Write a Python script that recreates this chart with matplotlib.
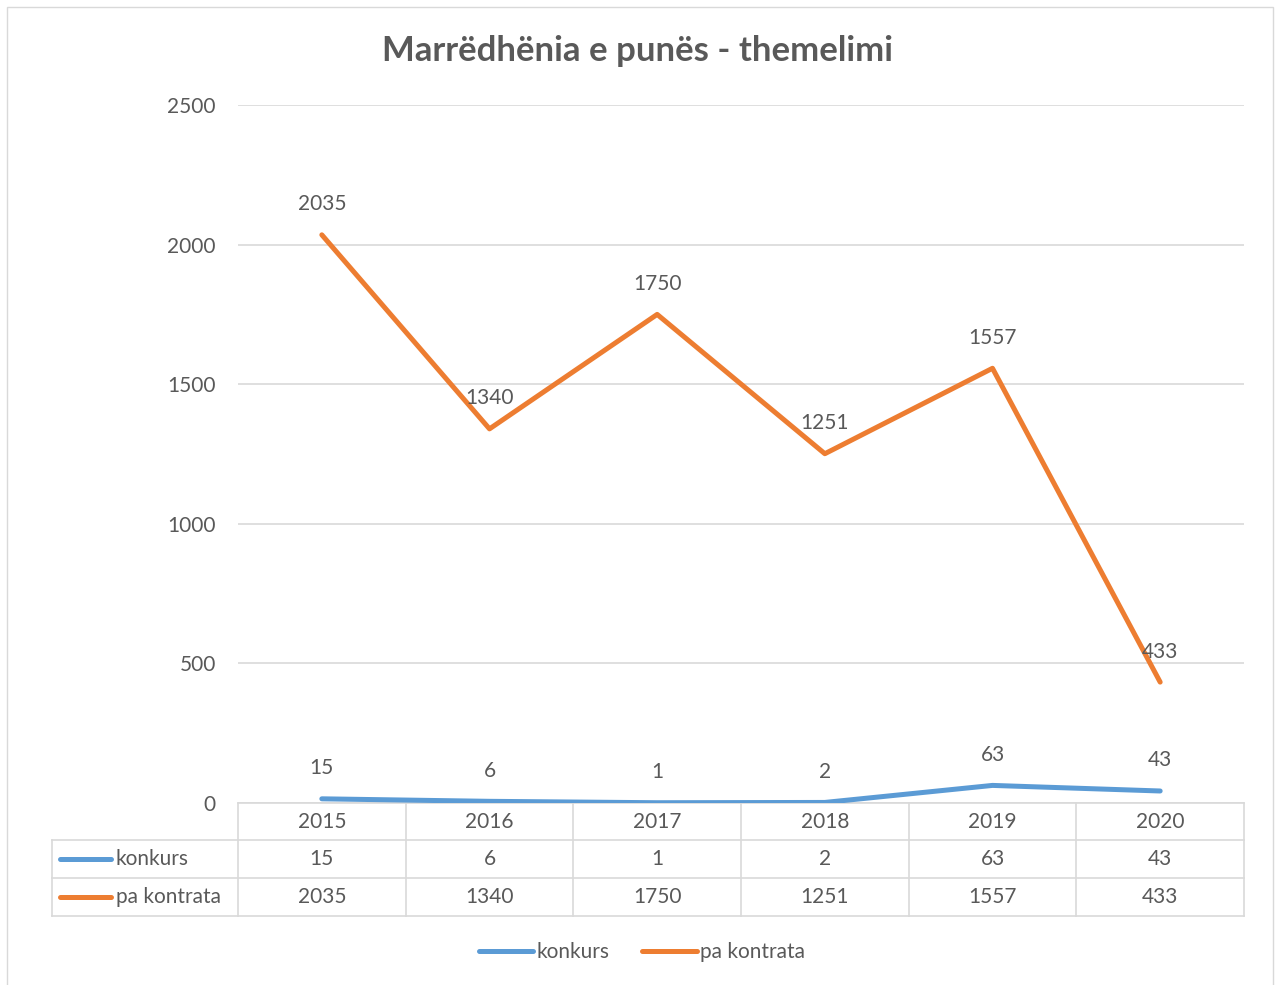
import matplotlib.pyplot as plt
from matplotlib.transforms import blended_transform_factory
from matplotlib.lines import Line2D
from matplotlib.patches import Rectangle

years = ["2015", "2016", "2017", "2018", "2019", "2020"]
konkurs = [15, 6, 1, 2, 63, 43]
pa_kontrata = [2035, 1340, 1750, 1251, 1557, 433]

series = [
    ("konkurs", konkurs, "#5b9bd5"),
    ("pa kontrata", pa_kontrata, "#ed7d31"),
]

TEXT = "#595959"
GRID = "#d9d9d9"
W, H = 1276, 985
FS = 15


def main():
    plt.rcParams["font.family"] = ["Lato", "DejaVu Sans"]
    fig = plt.figure(figsize=(W / 100, H / 100), dpi=100)
    ax = fig.add_axes([238 / W, 1 - 803 / H, (1244 - 238) / W, (803 - 105) / H])

    x = list(range(len(years)))
    for label, vals, color in series:
        ax.plot(x, vals, color=color, lw=3.6, solid_capstyle="round", zorder=3)
        for xi, v in zip(x, vals):
            ax.annotate(str(v), (xi, v), xytext=(0, 22), textcoords="offset points",
                        ha="center", va="center", fontsize=FS, color=TEXT, zorder=4)

    ax.set_xlim(-0.5, len(years) - 0.5)
    ax.set_ylim(0, 2500)
    ax.set_yticks(range(0, 2501, 500))
    ax.tick_params(axis="y", length=0, labelsize=FS, labelcolor=TEXT, pad=16)
    ax.set_xticks([])
    ax.grid(axis="y", color=GRID, lw=1.2, zorder=0)
    for s in ax.spines.values():
        s.set_visible(False)

    # data table below the plot
    col_w = (1244 - 238) / len(years)

    def px2x(px):
        return (px - 238) / col_w - 0.5

    tr = blended_transform_factory(ax.transData, fig.transFigure)
    rows = [803, 840, 878, 916]
    fy = [1 - r / H for r in rows]
    lkw = dict(transform=tr, color=GRID, lw=1.2, clip_on=False, zorder=2)
    ax.add_line(Line2D([-0.5, len(years) - 0.5], [fy[0], fy[0]], **lkw))
    for y in fy[1:]:
        ax.add_line(Line2D([px2x(52), len(years) - 0.5], [y, y], **lkw))
    ax.add_line(Line2D([px2x(52), px2x(52)], [fy[1], fy[3]], **lkw))
    for i in range(len(years) + 1):
        ax.add_line(Line2D([i - 0.5, i - 0.5], [fy[0], fy[3]], **lkw))

    mids = [(fy[i] + fy[i + 1]) / 2 for i in range(3)]
    for xi, yr in zip(x, years):
        ax.text(xi, mids[0], yr, transform=tr, ha="center", va="center",
                fontsize=FS, color=TEXT)
    for (label, vals, color), ym in zip(series, mids[1:]):
        ax.add_line(Line2D([px2x(60), px2x(111)], [ym, ym], transform=tr, color=color,
                           lw=3.6, solid_capstyle="round", clip_on=False))
        ax.text(px2x(116), ym, label, transform=tr, ha="left", va="center",
                fontsize=FS, color=TEXT)
        for xi, v in zip(x, vals):
            ax.text(xi, ym, str(v), transform=tr, ha="center", va="center",
                    fontsize=FS, color=TEXT)

    handles = [Line2D([], [], color=c, lw=3.6, solid_capstyle="round") for _, _, c in series]
    fig.legend(handles, [s[0] for s in series], loc="center", bbox_to_anchor=(0.503, 1 - 952 / H),
               ncol=2, frameon=False, fontsize=FS, labelcolor=TEXT, handlelength=2.6,
               handletextpad=0.15, columnspacing=1.6)

    fig.text(0.5, 1 - 51 / H, "Marrëdhënia e punës - themelimi", ha="center", va="center",
             fontsize=25, fontweight="bold", color=TEXT)

    fig.patches.append(Rectangle((7 / W, -0.01), (1273 - 7) / W, 1 - 7 / H + 0.01,
                                 transform=fig.transFigure, fill=False, edgecolor=GRID, lw=1))

    fig.savefig("out.png", dpi=100, facecolor="white")


if __name__ == "__main__":
    main()
